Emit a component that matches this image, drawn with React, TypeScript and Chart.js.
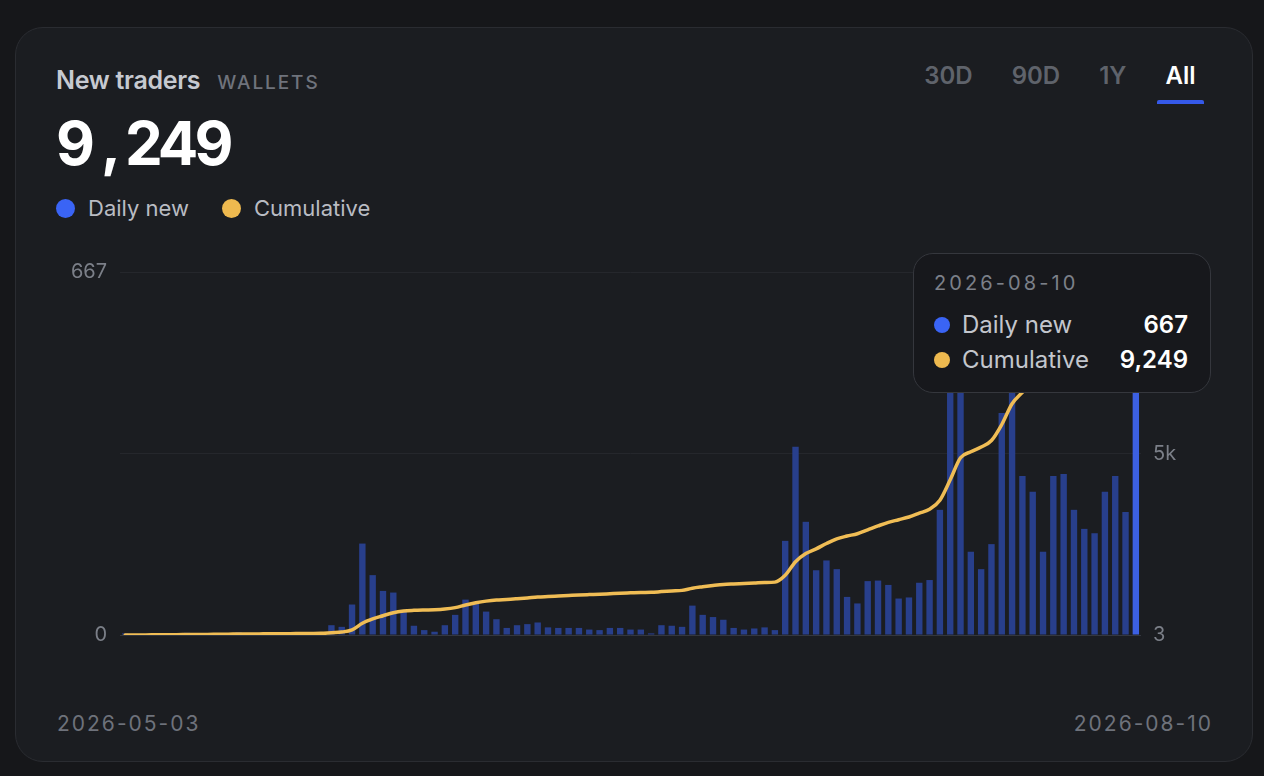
import React, { useEffect, useRef, useState } from "react";
import { Chart, registerables } from "chart.js";

Chart.register(...registerables);

// ---------- data ----------
const RANGE_START = "2026-05-03";
const RANGE_END = "2026-08-10";

const DAILY_NEW: number[] = [
  3, 2, 1, 3, 2, 0, 4, 2, 1, 3, 2, 5, 1, 2, 3, 0, 2, 4, 3, 2,
  18, 15, 56, 168, 110, 81, 78, 43, 17, 9,
  6, 18, 37, 65, 57, 43, 29, 13, 18, 20, 23, 14, 13, 13, 13, 10, 9, 13, 13, 10,
  10, 3, 18, 17, 15, 54, 37, 33, 28, 13, 10, 12, 14, 9,
  173, 346, 208, 119, 137, 121, 70, 58, 99, 100, 92, 67, 69, 96, 101, 230,
  520, 560,
  153, 121, 167, 408, 528,
  292, 263, 153, 292, 296, 230, 195, 187, 263, 292, 226, 667,
];

const CUMULATIVE: number[] = DAILY_NEW.reduce<number[]>((acc, v) => {
  acc.push((acc.length ? acc[acc.length - 1] : 0) + v);
  return acc;
}, []);

// one label per day, ending on RANGE_END
const DATES: string[] = DAILY_NEW.map((_, i) => {
  const end = new Date(RANGE_END + "T00:00:00Z");
  const d = new Date(end.getTime() - (DAILY_NEW.length - 1 - i) * 86400000);
  return d.toISOString().slice(0, 10);
});

const LEFT_TICK_VALUES = [0, 333.5, 667];
const LEFT_TICK_LABELS = ["0", "", "667"];
const RIGHT_TICK_VALUES = [3, 4626, 9249];
const RIGHT_TICK_LABELS = ["3", "5k", "9k"];

const TABS = ["30D", "90D", "1Y", "All"];
const ACTIVE_TAB = "All";

const SERIES_NAMES = ["Daily new", "Cumulative"];
const ACTIVE_INDEX = DAILY_NEW.length - 1;

// ---------- styles ----------
const FONT = "Inter, 'Noto Sans', sans-serif";
const BLUE = "#3a64f5";
const BAR_DIM = "#283f8c";
const BAR_ACTIVE = "#3c60e2";
const YELLOW = "#eeb94f";
const LINE_COLOR = "#f0bd55";
const AXIS_TEXT = "#7b7f88";

type Tip = { left: number; top: number; index: number } | null;

export default function App() {
  const canvasRef = useRef<HTMLCanvasElement | null>(null);
  const [tip, setTip] = useState<Tip>(null);

  useEffect(() => {
    if (!canvasRef.current) return;
    Chart.defaults.font.family = FONT;
    const chart = new Chart(canvasRef.current, {
      type: "bar",
      data: {
        labels: DATES,
        datasets: [
          {
            type: "bar",
            label: SERIES_NAMES[0],
            data: DAILY_NEW,
            yAxisID: "y",
            order: 1,
            backgroundColor: (c: any) => (c.dataIndex === ACTIVE_INDEX ? BAR_ACTIVE : BAR_DIM),
            borderWidth: 0,
            barPercentage: 0.62,
            categoryPercentage: 1,
          } as any,
          {
            type: "line",
            label: SERIES_NAMES[1],
            data: CUMULATIVE,
            yAxisID: "y1",
            order: 0,
            borderColor: LINE_COLOR,
            borderWidth: 3.5,
            pointRadius: 0,
            pointHoverRadius: 0,
            tension: 0.4,
            cubicInterpolationMode: "monotone",
            borderCapStyle: "round",
            borderJoinStyle: "round",
          } as any,
        ],
      },
      options: {
        animation: false,
        responsive: true,
        maintainAspectRatio: false,
        events: [],
        layout: { padding: { top: 22, bottom: 15, left: 0, right: 0 } },
        interaction: { mode: "index", intersect: false },
        plugins: {
          legend: { display: false },
          tooltip: {
            enabled: false,
            external: (ctx: any) => {
              const { chart: ch, tooltip } = ctx;
              if (!tooltip || tooltip.opacity === 0) {
                setTip(null);
                return;
              }
              const idx = tooltip.dataPoints?.[0]?.dataIndex ?? ACTIVE_INDEX;
              const w = 298;
              const left = Math.min(tooltip.caretX + 12, ch.width - w);
              const top = Math.max(0, tooltip.caretY - 19);
              setTip((p) =>
                p && p.left === left && p.top === top && p.index === idx ? p : { left, top, index: idx }
              );
            },
          },
        },
        scales: {
          x: { display: false, offset: true, grid: { display: false } },
          y: {
            position: "left",
            min: 0,
            max: 667,
            afterBuildTicks: (s: any) => {
              s.ticks = LEFT_TICK_VALUES.map((v) => ({ value: v }));
            },
            afterFit: (s: any) => {
              s.width = 64;
              s.paddingTop = 0;
              s.paddingBottom = 0;
            },
            border: { display: false },
            grid: {
              drawTicks: false,
              color: (c: any) => (c.tick && c.tick.value === 0 ? "#34373e" : "#25272c"),
              lineWidth: 1,
            },
            ticks: {
              padding: 13,
              color: AXIS_TEXT,
              font: { size: 20, family: FONT },
              callback: (_v: any, i: number) => LEFT_TICK_LABELS[i],
            },
          },
          y1: {
            position: "right",
            min: 3,
            max: 9249,
            afterBuildTicks: (s: any) => {
              s.ticks = RIGHT_TICK_VALUES.map((v) => ({ value: v }));
            },
            afterFit: (s: any) => {
              s.width = 70;
              s.paddingTop = 0;
              s.paddingBottom = 0;
            },
            border: { display: false },
            grid: { display: false, drawTicks: false },
            ticks: {
              padding: 12,
              color: AXIS_TEXT,
              font: { size: 20, family: FONT },
              callback: (_v: any, i: number) => RIGHT_TICK_LABELS[i],
            },
          },
        },
      } as any,
    });

    chart.tooltip?.setActiveElements(
      [
        { datasetIndex: 0, index: ACTIVE_INDEX },
        { datasetIndex: 1, index: ACTIVE_INDEX },
      ],
      { x: 0, y: 0 }
    );
    chart.update();

    return () => {
      chart.destroy();
    };
  }, []);

  const total = CUMULATIVE[CUMULATIVE.length - 1];
  const totalStr = total.toLocaleString("en-US");
  const commaAt = totalStr.indexOf(",");

  return (
    <div
      style={{
        position: "fixed",
        inset: 0,
        background: "#16171a",
        fontFamily: FONT,
        overflow: "hidden",
      }}
    >
      <div
        style={{
          position: "absolute",
          left: 15,
          top: 27,
          width: 1238,
          height: 735,
          boxSizing: "border-box",
          border: "1px solid #2a2c31",
          borderRadius: 28,
          background: "#1b1d21",
        }}
      >
        {/* title */}
        <div
          style={{
            position: "absolute",
            left: 40,
            top: 36.5,
            display: "flex",
            alignItems: "baseline",
            gap: 17,
            lineHeight: "30px",
          }}
        >
          <span style={{ fontSize: 25, fontWeight: 600, color: "#c6c9d0", letterSpacing: -0.3 }}>
            New traders
          </span>
          <span style={{ fontSize: 19, fontWeight: 500, color: "#6f737c", letterSpacing: 1.9 }}>WALLETS</span>
        </div>

        {/* big number */}
        <div
          style={{
            position: "absolute",
            left: 40,
            top: 83.4,
            fontSize: 60,
            lineHeight: "64px",
            fontWeight: 700,
            color: "#ffffff",
            letterSpacing: -4,
            whiteSpace: "nowrap",
          }}
        >
          {commaAt >= 0 ? (
            <>
              {totalStr.slice(0, commaAt)}
              <span style={{ margin: "0 8px 0 10px" }}>,</span>
              {totalStr.slice(commaAt + 1)}
            </>
          ) : (
            totalStr
          )}
        </div>

        {/* legend */}
        <div
          style={{
            position: "absolute",
            left: 40,
            top: 166,
            display: "flex",
            alignItems: "center",
            gap: 33,
            lineHeight: "28px",
            fontSize: 22,
            color: "#b9bcc3",
          }}
        >
          {SERIES_NAMES.map((name, i) => (
            <div key={name} style={{ display: "flex", alignItems: "center", gap: 13 }}>
              <span
                style={{
                  width: 19,
                  height: 19,
                  borderRadius: "50%",
                  background: i === 0 ? BLUE : YELLOW,
                  display: "inline-block",
                }}
              />
              <span>{name}</span>
            </div>
          ))}
        </div>

        {/* tabs */}
        <div
          style={{
            position: "absolute",
            right: 48,
            top: 32.5,
            display: "flex",
            gap: 22,
          }}
        >
          {TABS.map((t) => {
            const active = t === ACTIVE_TAB;
            return (
              <div
                key={t}
                style={{
                  position: "relative",
                  height: 44,
                  padding: "0 8.5px",
                  fontSize: 24,
                  lineHeight: "30px",
                  fontWeight: 600,
                  color: active ? "#ffffff" : "#5f636b",
                }}
              >
                {t}
                {active && (
                  <div
                    style={{
                      position: "absolute",
                      left: 0,
                      right: 0,
                      top: 39.5,
                      height: 4,
                      borderRadius: "2px 2px 0 0",
                      background: "#3559e9",
                    }}
                  />
                )}
              </div>
            );
          })}
        </div>

        {/* chart */}
        <div
          style={{
            position: "absolute",
            left: 40,
            top: 222,
            width: 1155,
            height: 400,
          }}
        >
          <canvas ref={canvasRef} style={{ display: "block" }} />
          {tip && (
            <div
              style={{
                position: "absolute",
                left: tip.left,
                top: tip.top,
                width: 298,
                boxSizing: "border-box",
                background: "#17181c",
                border: "1px solid #35373d",
                borderRadius: 20,
                padding: "17px 22px 15px 20px",
                pointerEvents: "none",
              }}
            >
              <div
                style={{
                  fontSize: 20,
                  lineHeight: "24px",
                  letterSpacing: 3.1,
                  color: "#7c8089",
                  marginBottom: 12,
                }}
              >
                {DATES[tip.index]}
              </div>
              {SERIES_NAMES.map((name, i) => (
                <div key={name} style={{ display: "flex", alignItems: "center", height: 35 }}>
                  <span
                    style={{
                      width: 16,
                      height: 16,
                      borderRadius: "50%",
                      background: i === 0 ? BLUE : YELLOW,
                      marginRight: 12,
                      flex: "none",
                    }}
                  />
                  <span style={{ fontSize: 24, color: "#c3c6cd" }}>{name}</span>
                  <span style={{ marginLeft: "auto", fontSize: 24, fontWeight: 600, color: "#ffffff" }}>
                    {(i === 0 ? DAILY_NEW[tip.index] : CUMULATIVE[tip.index]).toLocaleString("en-US")}
                  </span>
                </div>
              ))}
            </div>
          )}
        </div>

        {/* footer date range */}
        <div
          style={{
            position: "absolute",
            left: 41,
            right: 39,
            top: 682,
            display: "flex",
            justifyContent: "space-between",
            fontSize: 21,
            lineHeight: "28px",
            letterSpacing: 2,
            color: "#6e727b",
          }}
        >
          <span>{RANGE_START}</span>
          <span>{RANGE_END}</span>
        </div>
      </div>
    </div>
  );
}
